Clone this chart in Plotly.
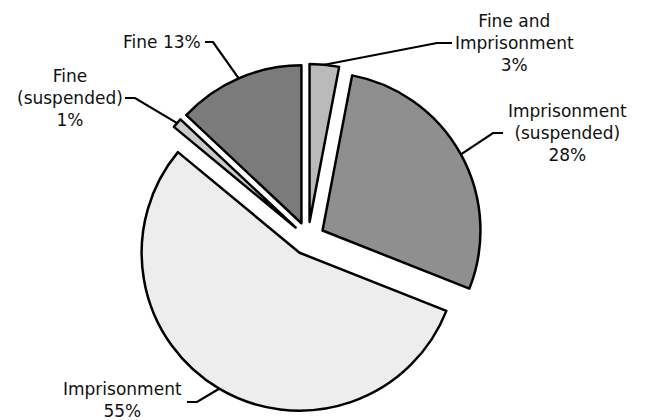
import math
import plotly.graph_objects as go

# ---- data ----
categories = ["Fine and<br>Imprisonment", "Imprisonment<br>(suspended)", "Imprisonment",
              "Fine<br>(suspended)", "Fine"]
values = [3, 28, 55, 1, 13]
label_texts = ["Fine and<br>Imprisonment<br>3%", "Imprisonment<br>(suspended)<br>28%",
               "Imprisonment<br>55%", "Fine<br>(suspended)<br>1%", "Fine 13%"]
colors = ["#bababa", "#8f8f8f", "#ededed", "#cacaca", "#7b7b7b"]

# ---- layout geometry (pixels) ----
W, H = 645, 420
PULL = 0.105
pie_left, pie_right, pie_top, pie_bottom = 0, 616, 64, 413
pie_w, pie_h = pie_right - pie_left, pie_bottom - pie_top
r = min(pie_w, pie_h) / (2 + 2 * PULL)
cx = pie_left + pie_w / 2
cy = pie_top + pie_h / 2

# label placement (pixel positions of label centre, elbow and tick end)
label_x = [514, 567, 122, 70, 162]
label_y = [43, 133, 400, 98, 42]
elbow_x = [437, 493, 197, 135, 213]
elbow_y = [43, 133, 402, 98, 42]
tick_x = [452, 503, 187, 125, 205]

fig = go.Figure()

fig.add_trace(go.Pie(
    labels=categories, values=values, sort=False, direction="clockwise", rotation=0,
    pull=[PULL] * len(values), textinfo="none", hoverinfo="label+percent",
    marker=dict(colors=colors, line=dict(color="#000000", width=2.5)),
    domain=dict(x=[pie_left / W, pie_right / W], y=[1 - pie_bottom / H, 1 - pie_top / H]),
    showlegend=False,
))

total = sum(values)
cum = 0
for i, v in enumerate(values):
    theta = 2 * math.pi * (cum + v / 2) / total
    cum += v
    tx = cx + (1 + PULL) * r * math.sin(theta)
    ty = cy - (1 + PULL) * r * math.cos(theta)
    fig.add_trace(go.Scatter(
        x=[tx, elbow_x[i], tick_x[i]], y=[ty, elbow_y[i], elbow_y[i]],
        mode="lines", line=dict(color="#000000", width=2.2),
        hoverinfo="skip", showlegend=False, cliponaxis=False,
    ))
    fig.add_annotation(
        x=label_x[i], y=label_y[i], xref="x", yref="y", text=label_texts[i],
        showarrow=False, xanchor="center", yanchor="middle", align="center",
        font=dict(family="DejaVu Sans", size=17, color="#111111"),
    )

fig.update_layout(
    width=W, height=H, margin=dict(l=0, r=0, t=0, b=0),
    paper_bgcolor="white", plot_bgcolor="white",
    xaxis=dict(range=[0, W], visible=False, fixedrange=True),
    yaxis=dict(range=[H, 0], visible=False, fixedrange=True),
)

fig.write_html("out.html", config={"displayModeBar": False},
               post_script="document.body.style.margin='0';document.body.style.overflow='hidden';")
